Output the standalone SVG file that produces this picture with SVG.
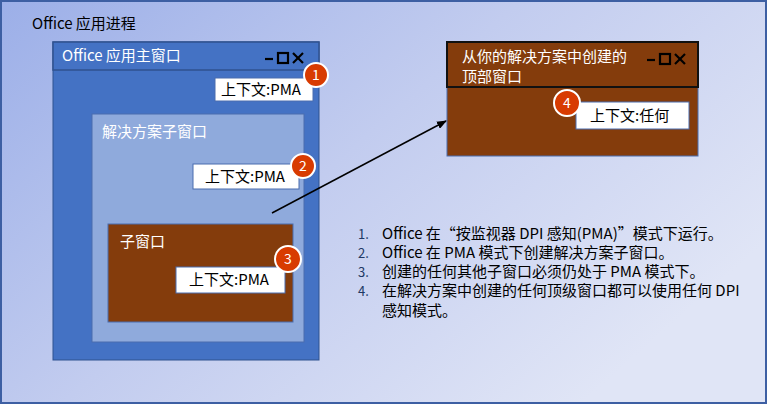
<svg xmlns="http://www.w3.org/2000/svg" width="769" height="406" viewBox="0 0 769 406">
<defs>
<linearGradient id="bg" x1="0" y1="0" x2="1" y2="0.6">
<stop offset="0" stop-color="#9cafe8"/>
<stop offset="0.5" stop-color="#c2ccef"/>
<stop offset="1" stop-color="#e0e5f6"/>
</linearGradient>
<marker id="ah" markerWidth="10" markerHeight="8" refX="9" refY="4" orient="auto" markerUnits="userSpaceOnUse">
<path d="M0,0 L10,4 L0,8 z" fill="#000"/>
</marker>
</defs>
<style>
text{font-family:"Microsoft YaHei","Noto Sans CJK SC","Noto Sans",sans-serif;font-size:15px}
.w{fill:#fff}
.k{fill:#000}
.lbl{fill:#fff;stroke:#4a6cae;stroke-width:1}
.badge{fill:#d83b01;stroke:#fff;stroke-width:2}
.bt{fill:#fff;font-size:14px;text-anchor:middle}
.ctl{stroke:#000;stroke-width:2.2;fill:none}
.num{fill:#203864;font-size:13px}
</style>
<rect x="1" y="1" width="765" height="402" fill="url(#bg)" stroke="#3d5fa3" stroke-width="2"/>
<text x="32" y="29" class="k" font-size="16">Office 应用进程</text>

<g id="main-window">
<rect x="53" y="42" width="266" height="318" fill="#4472c4" stroke="#2f528f" stroke-width="1"/>
<rect x="53" y="42" width="266" height="28" fill="#4472c4" stroke="#2f528f" stroke-width="1.5"/>
<text x="62" y="61" class="w" font-size="16">Office 应用主窗口</text>
<g class="ctl">
<line x1="265" y1="59" x2="273" y2="59"/>
<rect x="278" y="53" width="10" height="10"/>
<line x1="293" y1="53" x2="303" y2="63"/>
<line x1="303" y1="53" x2="293" y2="63"/>
</g>
<rect x="215" y="78" width="98" height="23" class="lbl"/>
<text x="221" y="95" class="k">上下文:PMA</text>
<circle cx="316" cy="75" r="12" class="badge"/>
<text x="316" y="80" class="bt">1</text>
</g>

<g id="solution-child">
<rect x="92" y="114" width="212" height="228" fill="#8faadc" stroke="#4a6cae" stroke-width="1"/>
<text x="102" y="137" class="w">解决方案子窗口</text>
<rect x="193" y="164" width="106" height="25" class="lbl"/>
<text x="205" y="182" class="k">上下文:PMA</text>
<circle cx="303" cy="166" r="12" class="badge"/>
<text x="303" y="171" class="bt">2</text>
</g>

<g id="child-window">
<rect x="108" y="224" width="185" height="98" fill="#843c0c" stroke="#4a6cae" stroke-width="1"/>
<text x="120" y="247" class="w">子窗口</text>
<rect x="176" y="267" width="109" height="26" class="lbl"/>
<text x="189" y="285" class="k">上下文:PMA</text>
<circle cx="288" cy="259" r="13" class="badge"/>
<text x="288" y="264" class="bt">3</text>
</g>

<g id="top-window">
<rect x="447" y="42" width="251" height="114" fill="#843c0c" stroke="#4a6cae" stroke-width="1"/>
<rect x="447" y="42" width="251" height="45" fill="#843c0c" stroke="#111" stroke-width="2"/>
<text x="462" y="62" class="w">从你的解决方案中创建的</text>
<text x="462" y="82" class="w">顶部窗口</text>
<g class="ctl">
<line x1="647" y1="60" x2="655" y2="60"/>
<rect x="660" y="54" width="10" height="10"/>
<line x1="675" y1="54" x2="685" y2="64"/>
<line x1="685" y1="54" x2="675" y2="64"/>
</g>
<rect x="576" y="102" width="113" height="27" class="lbl"/>
<text x="590" y="121" class="k">上下文:任何</text>
<circle cx="567" cy="103" r="13" class="badge"/>
<text x="567" y="108" class="bt">4</text>
</g>

<g id="connectors">
<line x1="272" y1="213" x2="446" y2="121" stroke="#000" stroke-width="1.5" marker-end="url(#ah)"/>
</g>

<g id="notes">
<text x="358" y="239" class="num">1.</text>
<text x="382" y="239" class="k">Office 在“按监视器 DPI 感知(PMA)”模式下运行。</text>
<text x="358" y="258" class="num">2.</text>
<text x="382" y="258" class="k">Office 在 PMA 模式下创建解决方案子窗口。</text>
<text x="358" y="277" class="num">3.</text>
<text x="382" y="277" class="k">创建的任何其他子窗口必须仍处于 PMA 模式下。</text>
<text x="358" y="296" class="num">4.</text>
<text x="382" y="296" class="k">在解决方案中创建的任何顶级窗口都可以使用任何 DPI</text>
<text x="382" y="316" class="k">感知模式。</text>
</g>
</svg>
